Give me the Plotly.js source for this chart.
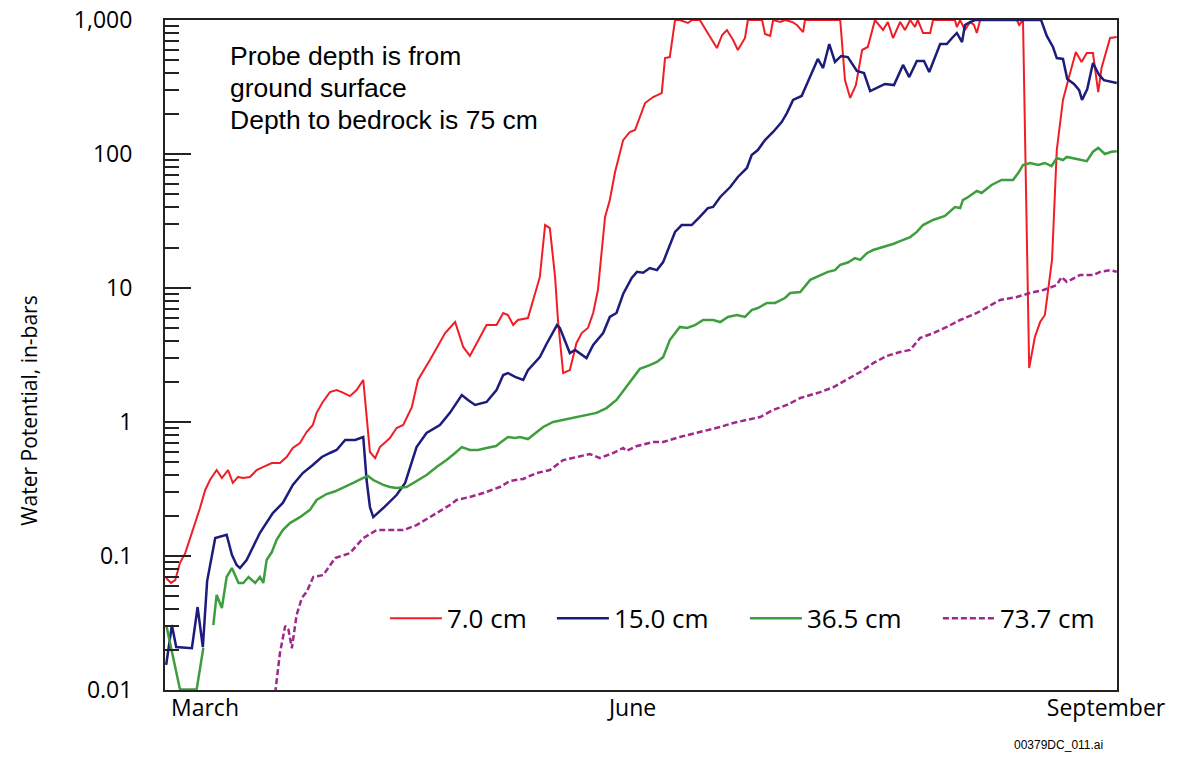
<!DOCTYPE html>
<html>
<head>
<meta charset="utf-8">
<script src="https://cdn.plot.ly/plotly-3.0.1.min.js"></script>
<style>html,body{margin:0;padding:0;background:#fff;}#chart{width:1179px;height:759px;}</style>
</head>
<body>
<div id="chart"></div>
<script>
// Days since March 1 and water potential (bars)
const seriesNames = ['7.0 cm', '15.0 cm', '36.5 cm', '73.7 cm'];

const redDays = [-0.8,0.2,1.1,2.1,3.2,4.8,6.3,7.4,8.4,9.8,10.9,12.2,13.2,14.3,15.3,16.8,18.2,19.5,21.4,23.1,24.5,25.8,27.3,28.7,30.0,30.8,32.1,33.6,35.0,36.1,37.8,39.2,40.6,42.0,43.1,44.1,46.2,47.6,49.0,50.8,52.1,54.6,56.3,57.8,59.9,61.6,63.0,64.7,66.5,68.6,70.0,71.0,72.1,73.1,75.2,76.3,77.7,78.8,79.8,80.9,81.5,82.6,84.0,85.4,86.5,87.8,88.9,89.9,90.8,91.4,92.4,93.5,95.2,96.6,97.7,99.8,101.5,103.3,104.0,105.0,106.1,107.1,108.8,109.7,111.3,114.9,116.0,117.0,118.3,119.3,120.8,121.4,124.4,125.0,126.1,126.7,128.2,129.2,130.7,131.7,133.0,133.4,140.8,141.8,142.9,144.1,145.4,146.6,148.1,149.8,150.8,151.9,153.4,154.4,155.5,156.5,157.1,158.2,159.7,160.3,164.9,165.3,166.0,167.0,168.1,168.9,169.5,170.2,177.9,178.4,179.2,180.5,181.7,182.8,183.8,184.5,185.3,186.3,187.6,188.7,190.3,191.5,192.6,193.9,195.0,195.7,196.6,197.5,198.9];
const redVals = [0.0685,0.063,0.066,0.089,0.105,0.156,0.228,0.311,0.369,0.438,0.382,0.438,0.351,0.389,0.382,0.389,0.438,0.461,0.494,0.494,0.548,0.64,0.697,0.842,0.95,1.17,1.41,1.67,1.73,1.67,1.56,1.73,2.06,0.597,0.538,0.65,0.76,0.902,0.95,1.29,2.06,2.9,3.76,4.61,5.57,3.63,3.11,4.02,5.29,5.29,6.51,6.29,5.29,5.77,5.97,8.14,12.1,29.5,28.0,12.1,5.77,2.32,2.44,3.89,4.61,5.03,6.51,9.66,19.2,33.9,45.4,73.4,127,146,151,240,266,285,520,529,1000,1000,950,1000,1000,618,773,841,709,597,734,1000,1000,787,760,1000,966,1000,966,918,813,1000,1000,356,262,327,597,629,1000,841,966,734,966,841,1000,887,1000,800,800,1000,1000,887,1000,841,966,918,800,1000,1000,918,1000,2.53,4.31,5.57,6.29,10.2,16.2,107,253,356,577,486,567,567,290,438,577,734,747];

const blueDays = [-0.8,0.4,1.3,4.6,5.8,6.9,7.8,9.5,11.9,13.0,14.0,14.7,16.1,17.4,18.9,21.6,23.7,25.8,27.9,30.0,31.9,33.6,35.0,36.8,38.9,40.6,41.3,42.0,42.7,44.8,47.6,49.4,51.8,53.9,56.7,58.8,61.3,62.6,64.1,66.5,68.6,70.0,71.0,72.5,74.2,75.2,77.7,79.1,81.3,81.9,84.0,85.1,87.5,88.9,91.0,92.4,93.8,95.2,97.0,98.1,99.4,100.8,102.3,103.6,104.6,106.1,107.5,109.6,111.3,113.0,114.1,115.6,117.7,119.3,121.2,122.2,123.5,125.0,126.7,128.5,129.6,130.9,132.7,133.8,135.1,136.1,137.2,138.5,139.7,141.0,142.4,144.3,145.8,147.1,148.5,150.2,152.1,154.0,155.3,156.9,158.4,159.5,161.8,163.2,164.3,165.3,166.4,167.0,168.1,169.1,183.0,184.2,185.5,186.3,187.6,188.5,189.9,191.0,191.6,192.7,193.9,195.2,196.2,198.9];
const blueVals = [0.0154,0.0305,0.0209,0.0205,0.0416,0.0209,0.065,0.136,0.144,0.102,0.0857,0.0813,0.0933,0.117,0.149,0.209,0.249,0.339,0.416,0.478,0.548,0.587,0.618,0.734,0.734,0.773,0.369,0.232,0.195,0.228,0.285,0.351,0.65,0.828,0.95,1.17,1.59,1.46,1.34,1.41,1.73,2.24,2.32,2.17,2.06,2.44,3.05,3.82,5.29,5.04,3.27,3.45,3.0,3.76,4.61,6.08,6.51,9.02,11.9,13.2,13.0,14.1,13.6,15.6,19.2,26.2,29.5,29.5,33.9,39.5,40.3,47.8,56.7,67.4,78.6,98.3,107,127,146,173,202,253,271,333,423,512,438,662,486,539,529,416,402,295,311,333,327,462,375,494,494,409,662,662,734,800,685,918,966,1000,1000,760,629,520,512,363,333,300,253,305,478,389,356,339];

const greenDays = [-0.7,2.1,5.6,7.0,8.0,9.1,9.8,10.9,11.9,13.0,14.4,15.4,16.5,17.9,18.9,19.6,20.3,21.4,22.4,23.7,25.2,27.3,29.4,30.8,32.9,34.7,36.3,38.5,40.6,41.6,42.7,44.8,46.2,47.6,49.7,51.8,53.9,56.0,58.1,59.9,61.3,63.0,64.7,66.5,68.5,69.3,71.0,72.5,73.5,75.2,76.7,78.4,80.5,82.6,84.7,87.5,89.6,91.7,93.8,96.0,97.3,98.7,100.8,102.3,103.6,105.0,107.1,108.6,110.3,112.0,114.1,115.6,117.2,119.1,120.8,122.2,123.5,125.4,127.1,129.2,130.3,132.4,134.5,136.6,138.2,139.7,140.8,142.4,143.9,145.0,146.4,147.7,149.8,151.9,153.4,155.5,156.9,158.2,160.3,162.8,164.9,166.0,166.6,167.4,169.5,170.5,172.6,174.7,177.1,178.2,179.2,180.7,182.4,183.8,185.2,186.3,187.6,188.4,190.5,192.6,193.9,195.0,196.4,197.8,198.9];
const greenVals = [0.0295,0.0101,0.0101,0.0206,null,0.0305,0.0512,0.0409,0.0697,0.0813,0.0629,0.0629,0.0697,0.0629,0.0697,0.0629,0.0933,0.107,0.132,0.156,0.176,0.195,0.221,0.262,0.29,0.304,0.322,0.351,0.382,0.396,0.369,0.339,0.327,0.322,0.327,0.363,0.402,0.461,0.52,0.587,0.65,0.618,0.618,0.64,0.662,0.697,0.773,0.76,0.773,0.746,0.828,0.918,1.0,1.04,1.07,1.13,1.17,1.27,1.46,1.86,2.13,2.49,2.66,2.81,3.05,4.09,5.12,5.03,5.29,5.77,5.77,5.57,6.08,6.29,6.08,6.85,7.09,7.73,7.73,8.42,9.18,9.34,11.5,12.5,13.2,13.6,14.9,15.5,16.7,16.2,18.2,19.2,20.2,21.3,22.4,24.0,26.2,29.5,32.2,34.5,40.2,39.5,45.4,47.0,53.0,51.2,58.7,64,64,72.1,82.7,85.7,82.7,85.7,81.3,93.3,90.2,95.1,91.7,88.5,104,111,100,104,105];

const purpleDays = [22.1,23.1,24.2,24.9,25.6,26.6,27.7,28.7,30.1,32.2,34.7,37.8,40.6,43.4,49.0,51.8,55.3,58.8,60.2,63.0,65.8,69.3,71.4,74.2,77.0,79.8,82.6,85.4,88.2,90.3,93.1,95.2,95.9,98.1,101.5,103.6,107.1,111.3,115.6,118.3,121.2,124.0,126.7,129.6,132.4,136.6,139.4,142.2,145.0,147.8,150.6,153.4,155.5,157.6,160.4,163.2,166.0,169.5,171.6,174.4,177.9,180.7,183.5,186.3,187.3,188.4,191.2,194.0,195.4,197.5,198.9];
const purpleVals = [0.0095,0.0189,0.0301,0.0281,0.0205,0.0363,0.0486,0.0539,0.0697,0.0721,0.0966,0.105,0.136,0.156,0.156,0.17,0.202,0.24,0.262,0.276,0.295,0.327,0.363,0.376,0.416,0.438,0.52,0.548,0.577,0.538,0.587,0.64,0.608,0.662,0.709,0.709,0.773,0.842,0.918,0.984,1.04,1.09,1.23,1.34,1.51,1.67,1.82,2.06,2.36,2.76,3.11,3.33,3.45,4.24,4.61,5.12,5.77,6.51,7.21,8.14,8.57,9.18,9.66,10.5,12.1,11.1,12.5,12.5,13.2,13.6,13.2];

const monthDays = [0, 92, 184];
const monthLabels = ['March', 'June', 'September'];
const yTickVals = [0.01, 0.1, 1, 10, 100, 1000];
const yTickText = ['0.01', '0.1', '1', '10', '100', '1,000'];
const noteLines = ['Probe depth is from', 'ground surface', 'Depth to bedrock is 75 cm'];

// minor log ticks (2..9 within each decade)
const minorVals = [];
for (let e = -2; e < 3; e++) for (let m = 2; m <= 9; m++) minorVals.push(m * Math.pow(10, e));

const traces = [
  {x: redDays, y: redVals, name: seriesNames[0], mode: 'lines', legendwidth: 100, line: {color: 'rgb(240,30,36)', width: 2}},
  {x: blueDays, y: blueVals, name: seriesNames[1], mode: 'lines', legendwidth: 126, line: {color: 'rgb(28,28,125)', width: 2.5}},
  {x: greenDays, y: greenVals, name: seriesNames[2], mode: 'lines', legendwidth: 126, connectgaps: false, line: {color: 'rgb(62,158,62)', width: 2.5}},
  {x: purpleDays, y: purpleVals, name: seriesNames[3], mode: 'lines', legendwidth: 110, line: {color: 'rgb(160,40,140)', width: 2.5, dash: '6px,3px'}}
];

const noteY = [0.946, 0.899, 0.851];
const annotations = noteLines.map((t, i) => ({
  text: t, xref: 'paper', yref: 'paper', x: 0.066, y: noteY[i], xanchor: 'left', yanchor: 'middle',
  align: 'left', showarrow: false, font: {family: 'Liberation Sans, Arial, sans-serif', size: 26.5, color: 'black'}
}));
annotations.push(
  {text: 'Water Potential, in-bars', xref: 'paper', yref: 'paper', x: -0.143, y: 0.418,
   xanchor: 'center', yanchor: 'middle', textangle: -90, showarrow: false,
   font: {family: 'Open Sans', size: 21, color: 'black'}},
  {text: '00379DC_011.ai', xref: 'paper', yref: 'paper', x: 0.987, y: -0.082,
   xanchor: 'right', yanchor: 'middle', showarrow: false,
   font: {family: 'Liberation Sans, Arial, sans-serif', size: 12, color: 'black'}}
);

const layout = {
  width: 1179, height: 759,
  margin: {l: 165, r: 62, t: 20, b: 69},
  paper_bgcolor: 'white', plot_bgcolor: 'white',
  showlegend: true,
  legend: {orientation: 'h', x: 0.2310, y: 0.107, xanchor: 'left', yanchor: 'middle',
           font: {family: 'Open Sans', size: 26, color: 'black'}, bgcolor: 'rgba(0,0,0,0)',
           itemwidth: 52},
  xaxis: {range: [-1.05, 198.95], showgrid: false, zeroline: false, showline: true,
          linecolor: '#222', linewidth: 2, mirror: true,
          tickmode: 'array', tickvals: monthDays, ticktext: monthLabels, ticks: '',
          ticklabelposition: 'outside right', ticklabelstandoff: -4,
          tickfont: {family: 'Open Sans', size: 23, color: 'black'}},
  yaxis: {type: 'log', range: [-2, 3], showgrid: false, zeroline: false, showline: true,
          linecolor: '#222', linewidth: 2, mirror: true,
          tickmode: 'array', tickvals: yTickVals, ticktext: yTickText,
          ticks: 'inside', ticklen: 26, tickwidth: 2, tickcolor: '#222',
          ticklabelstandoff: 26,
          tickfont: {family: 'Open Sans', size: 23, color: 'black'},
          minor: {tickmode: 'array', tickvals: minorVals, ticks: 'inside', ticklen: 14, tickwidth: 2, tickcolor: '#222', showgrid: false}},
  annotations: annotations
};

Plotly.newPlot('chart', traces, layout, {displayModeBar: false, staticPlot: true});
</script>
</body>
</html>
